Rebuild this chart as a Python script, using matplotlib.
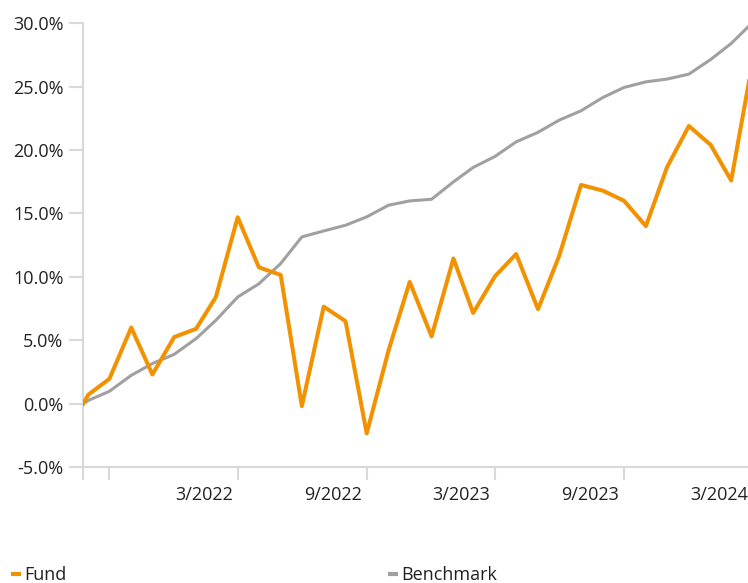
import matplotlib
matplotlib.use("Agg")
import matplotlib.pyplot as plt
import matplotlib.transforms as mtransforms
import pandas as pd

# month-end values, series starts on the inception date
dates = pd.to_datetime([
    "2021-08-24", "2021-08-31", "2021-09-30", "2021-10-31", "2021-11-30",
    "2021-12-31", "2022-01-31", "2022-02-28", "2022-03-31", "2022-04-30",
    "2022-05-31", "2022-06-30", "2022-07-31", "2022-08-31", "2022-09-30",
    "2022-10-31", "2022-11-30", "2022-12-31", "2023-01-31", "2023-02-28",
    "2023-03-31", "2023-04-30", "2023-05-31", "2023-06-30", "2023-07-31",
    "2023-08-31", "2023-09-30", "2023-10-31", "2023-11-30", "2023-12-31",
    "2024-01-31", "2024-02-29", "2024-03-31",
])
fund = [0.0, 0.7, 1.95, 6.0, 2.3, 5.25, 5.9, 8.4, 14.7, 10.75,
        10.15, -0.2, 7.65, 6.5, -2.35, 4.2, 9.6, 5.3, 11.45, 7.15,
        10.05, 11.8, 7.45, 11.65, 17.25, 16.8, 16.0, 14.0, 18.65, 21.9,
        20.4, 17.6, 27.2]
benchmark = [0.0, 0.25, 0.97, 2.23, 3.16, 3.89, 5.13, 6.57, 8.41, 9.45,
             11.05, 13.15, 13.62, 14.07, 14.73, 15.65, 15.99, 16.12, 17.49, 18.63,
             19.5, 20.65, 21.4, 22.36, 23.1, 24.15, 24.94, 25.38, 25.6, 25.99,
             27.15, 28.41, 30.1]

tick_dates = pd.to_datetime(["2021-08-24", "2021-09-30", "2022-03-31", "2022-09-30",
                             "2023-03-31", "2023-09-30", "2024-03-31"])
tick_labels = ["", "", "3/2022", "9/2022", "3/2023", "9/2023", "3/2024"]
y_ticks = [-5, 0, 5, 10, 15, 20, 25, 30]

ORANGE = "#f39200"
GREY = "#a0a0a0"
AXIS = "#d9d9d9"
TEXT = "#222222"

plt.rcParams["font.family"] = ["Open Sans", "DejaVu Sans"]
plt.rcParams["font.size"] = 13

W, H = 748, 583
fig = plt.figure(figsize=(W / 100, H / 100), dpi=100)

# axis runs a bit past the right edge of the picture, like the cropped original
x_start = pd.Timestamp("2021-08-24")
x_end = pd.Timestamp("2024-04-12")
px_per_day = 0.705
left_px, top_px, bottom_px = 83.3, 23.3, 467.0
width_px = (x_end - x_start).days * px_per_day
ax = fig.add_axes([left_px / W, 1 - bottom_px / H, width_px / W, (bottom_px - top_px) / H])

ax.plot(dates, benchmark, color=GREY, lw=2.2, label="Benchmark", zorder=2)
ax.plot(dates, fund, color=ORANGE, lw=2.9, label="Fund", zorder=3)

ax.set_xlim(x_start, x_end)
ax.set_ylim(-5, 30)
ax.set_yticks(y_ticks)
ax.set_yticklabels([f"{v:.1f}%" for v in y_ticks])
ax.set_xticks(tick_dates)
ax.set_xticklabels(tick_labels)

for side in ["top", "right"]:
    ax.spines[side].set_visible(False)
for side in ["left", "bottom"]:
    ax.spines[side].set_color(AXIS)
    ax.spines[side].set_linewidth(1.5)

ax.tick_params(axis="x", length=9.4, width=1.5, color=AXIS, pad=4, labelcolor=TEXT)
ax.tick_params(axis="y", length=10, width=1.5, color=AXIS, pad=4.3, labelcolor=TEXT)

offset = mtransforms.ScaledTranslation(-5 / 100, 0, fig.dpi_scale_trans)
for lab in ax.get_xticklabels():
    lab.set_horizontalalignment("right")
    lab.set_transform(lab.get_transform() + offset)

handles, labels = ax.get_legend_handles_labels()
leg = fig.legend(handles[::-1], labels[::-1], ncol=2, loc="lower left",
                 bbox_to_anchor=(11 / W, -1 / H), frameon=False,
                 handlelength=0.55, handletextpad=0.2, columnspacing=17.8,
                 borderpad=0, borderaxespad=0)
for line in leg.get_lines():
    line.set_linewidth(3)
    line.set_solid_capstyle("butt")
for t in leg.get_texts():
    t.set_color(TEXT)

fig.savefig("out.png", dpi=100)
